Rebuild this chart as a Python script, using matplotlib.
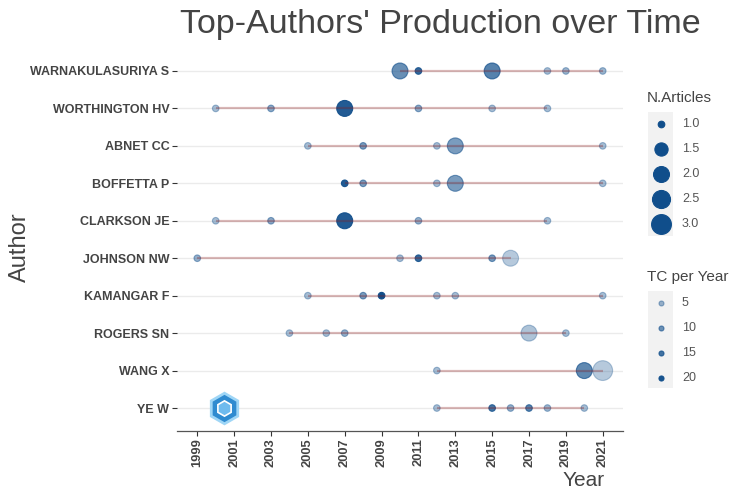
#Top-authors production over time (bibliometrix style timeline)
import numpy as np
import matplotlib
matplotlib.use('Agg')
from matplotlib import pyplot as plt

plt.rcParams['font.family'] = ['Liberation Sans', 'DejaVu Sans']

#authors from top to bottom
AUTHORS = [
    'WARNAKULASURIYA S',
    'WORTHINGTON HV',
    'ABNET CC',
    'BOFFETTA P',
    'CLARKSON JE',
    'JOHNSON NW',
    'KAMANGAR F',
    'ROGERS SN',
    'WANG X',
    'YE W',
]

#publication years per author
YEARS = [
    [2010, 2011, 2015, 2018, 2019, 2021],
    [2000, 2003, 2007, 2011, 2015, 2018],
    [2005, 2008, 2012, 2013, 2021],
    [2007, 2008, 2012, 2013, 2021],
    [2000, 2003, 2007, 2011, 2018],
    [1999, 2010, 2011, 2015, 2016],
    [2005, 2008, 2009, 2012, 2013, 2021],
    [2004, 2006, 2007, 2017, 2019],
    [2012, 2020, 2021],
    [2012, 2015, 2016, 2017, 2018, 2020],
]

#number of articles for each point
ARTICLES = [
    [2, 1, 2, 1, 1, 1],
    [1, 1, 2, 1, 1, 1],
    [1, 1, 1, 2, 1],
    [1, 1, 1, 2, 1],
    [1, 1, 2, 1, 1],
    [1, 1, 1, 1, 2],
    [1, 1, 1, 1, 1, 1],
    [1, 1, 1, 2, 1],
    [1, 2, 3],
    [1, 1, 1, 1, 1, 1],
]

#total citations per year for each point
TC_PER_YEAR = [
    [11, 17, 13, 4, 5, 5],
    [4, 7, 19, 7, 4, 4],
    [4, 9, 4, 9, 4],
    [19, 9, 4, 9, 4],
    [4, 7, 19, 6, 4],
    [6, 4, 17, 9, 2],
    [4, 9, 21, 4, 4, 4],
    [4, 4, 6, 3, 4],
    [4, 12, 2],
    [4, 15, 6, 13, 5, 4],
]

YEAR_TICKS = list(range(1999, 2022, 2))
ART_BREAKS = [1.0, 1.5, 2.0, 2.5, 3.0]
TC_BREAKS = [5, 10, 15, 20]

BLUE = matplotlib.colors.to_rgb('#104E8B')   # dodgerblue4
RED = '#8B1A1A'                              # firebrick4
TEXT = '#444444'

all_art = [a for row in ARTICLES for a in row]
all_tc = [t for row in TC_PER_YEAR for t in row]
art_min, art_max = min(all_art), max(all_art)
tc_min, tc_max = min(all_tc), max(all_tc)


def point_size(f):
    #area scale like ggplot scale_size(range=c(2,6))
    d_px = 3.3 * (2 + 4 * np.sqrt((f - art_min) / (art_max - art_min)))
    return (d_px * 0.72) ** 2


def point_alpha(tc):
    return 0.3 + 0.7 * (tc - tc_min) / (tc_max - tc_min)


fig = plt.figure(figsize=(7.5, 4.99), dpi=100)
ax = fig.add_axes([177 / 750, 1 - 430.5 / 499, 446 / 750, 382 / 499])

n = len(AUTHORS)
for i, name in enumerate(AUTHORS):
    yy = n - 1 - i
    ax.axhline(yy, color='#ebebeb', lw=1.0, zorder=0)
    cols = [(BLUE[0], BLUE[1], BLUE[2], point_alpha(t)) for t in TC_PER_YEAR[i]]
    ax.scatter(YEARS[i], [yy] * len(YEARS[i]),
               s=[point_size(f) for f in ARTICLES[i]],
               c=cols, edgecolors=cols, linewidths=0.8, zorder=2)
    ax.plot([min(YEARS[i]), max(YEARS[i])], [yy, yy], color=RED, alpha=0.3,
            lw=1.6, solid_capstyle='butt', zorder=3)

#bibliometrix logo
ax.plot(2000.45, 0, marker='h', markersize=22, color='#2f8bd0',
        mec='#9fd6f6', mew=2, zorder=4)
ax.plot(2000.45, 0, marker='h', markersize=11, color='#6fbbee',
        mec='white', mew=1.2, zorder=5)

ax.set_xlim(1997.9, 2022.1)
ax.set_ylim(-0.6, n - 0.4)
ax.set_yticks(range(n))
ax.set_yticklabels(AUTHORS[::-1], fontweight='bold', fontsize=9, color=TEXT)
ax.set_xticks(YEAR_TICKS)
ax.set_xticklabels([str(y) for y in YEAR_TICKS], rotation=90,
                   fontweight='bold', fontsize=9.3, color=TEXT)
ax.tick_params(axis='both', length=3.5, width=0.8, color='#333333', pad=2)
for side in ['left', 'top', 'right']:
    ax.spines[side].set_visible(False)
ax.spines['bottom'].set_color('#555555')
ax.spines['bottom'].set_linewidth(0.9)

fig.text(180 / 750, 1 - 33 / 499, "Top-Authors' Production over Time",
         fontsize=24.5, color=TEXT, va='baseline', ha='left')
fig.text(20 / 750, 1 - 247 / 499, 'Author', rotation=90, fontsize=17,
         color=TEXT, ha='center', va='center')
fig.text(584 / 750, 1 - 480 / 499, 'Year', fontsize=15, color=TEXT,
         ha='center', va='center')

#legend: N.Articles
fig.text(647 / 750, 1 - 98 / 499, 'N.Articles', fontsize=11, color=TEXT,
         ha='left', va='center')
lax = fig.add_axes([648 / 750, 1 - 236 / 499, 25 / 750, 124 / 499])
lax.set_facecolor('#f2f2f2')
lax.set_xlim(0, 1)
lax.set_ylim(len(ART_BREAKS) - 0.52, -0.48)
for k, b in enumerate(ART_BREAKS):
    lax.scatter(0.5, k, s=point_size(b), color=BLUE, edgecolors=BLUE, linewidths=0.8)
    lax.text(1.36, k, '%.1f' % b, fontsize=9, color='#555555', va='center',
             ha='left', transform=lax.get_yaxis_transform())
lax.set_xticks([])
lax.set_yticks([])
for sp in lax.spines.values():
    sp.set_visible(False)

#legend: TC per Year
fig.text(647 / 750, 1 - 277 / 499, 'TC per Year', fontsize=11, color=TEXT,
         ha='left', va='center')
tax = fig.add_axes([648 / 750, 1 - 388 / 499, 25 / 750, 97 / 499])
tax.set_facecolor('#f2f2f2')
tax.set_xlim(0, 1)
tax.set_ylim(len(TC_BREAKS) - 0.6, -0.48)
for k, b in enumerate(TC_BREAKS):
    c = (BLUE[0], BLUE[1], BLUE[2], point_alpha(b))
    tax.scatter(0.5, k, s=13, color=c, edgecolors=c, linewidths=0.8)
    tax.text(1.36, k, str(b), fontsize=9, color='#555555', va='center',
             ha='left', transform=tax.get_yaxis_transform())
tax.set_xticks([])
tax.set_yticks([])
for sp in tax.spines.values():
    sp.set_visible(False)

plt.savefig('out.png', dpi=100)
